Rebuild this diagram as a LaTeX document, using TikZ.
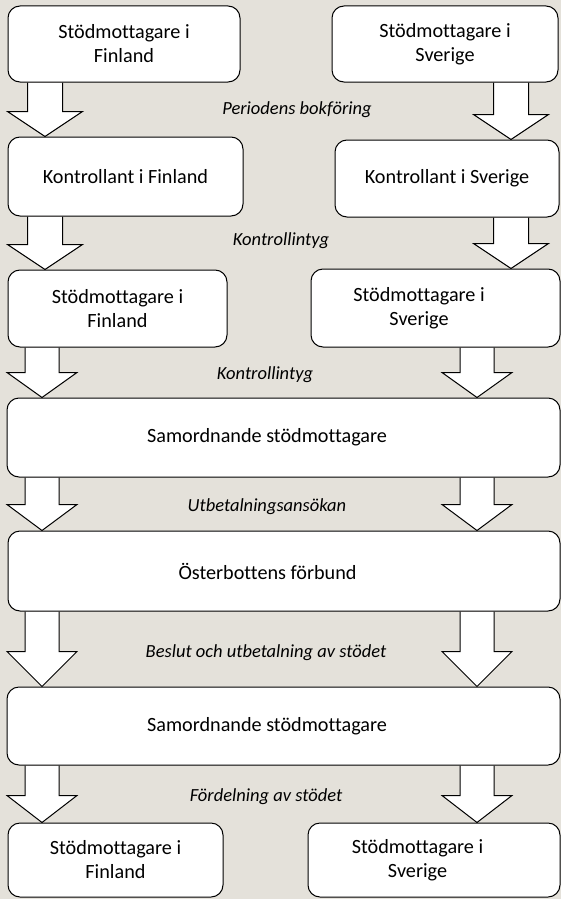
\documentclass[tikz,border=0pt]{standalone}
\usepackage{fontspec}
\setmainfont{Carlito}[Ligatures=NoCommon]
\usepackage{tikz}
\usetikzlibrary{calc,backgrounds}
\definecolor{paper}{HTML}{E4E1DA}
\definecolor{ink}{HTML}{000000}
\tikzset{
  box/.style={draw=ink, fill=white, line width=1pt, rounded corners=12pt, align=center,
    inner sep=0pt, font=\fontsize{20.2}{24}\selectfont},
  lab/.style={text=ink, font=\fontsize{18.5}{22}\selectfont\itshape},
  barrow/.style={draw=ink, fill=white, line width=1pt, line join=miter}
}
\newcommand{\shaftw}{17.5}
\newcommand{\headw}{37.5}
\newcommand{\blockarrow}[4]{%
  \path (#1,0 |- #2.south) coordinate (top) (#1,0 |- #3.north) coordinate (tip);
  \draw[barrow] ($(top)+(-\shaftw,0)$) -- ($(tip)+(-\shaftw,-#4)$) -- ($(tip)+(-\headw,-#4)$) -- (tip)
    -- ($(tip)+(\headw,-#4)$) -- ($(tip)+(\shaftw,-#4)$) -- ($(top)+(\shaftw,0)$);
}
\newcommand{\toleft}{\hspace*{-33pt}}

\begin{document}
\begin{tikzpicture}[x=1pt, y=-1pt]
  \useasboundingbox (0,0) rectangle (561,899);

  \node[box, minimum width=232, minimum height=76] (FinA) at (124,44) {Stödmottagare i\\Finland};
  \node[box, minimum width=226, minimum height=76] (SveA) at (445,44) {Stödmottagare i\\Sverige};
  \node[box, minimum width=235, minimum height=79] (KonFi) at (125.5,176.5) {Kontrollant i Finland};
  \node[box, minimum width=224, minimum height=77] (KonSv) at (447,178.5) {Kontrollant i Sverige};
  \node[box, minimum width=219, minimum height=77] (FinB) at (117.5,308.5) {Stödmottagare i\\Finland};
  \node[box, minimum width=249, minimum height=78] (SveB) at (435.5,308) {\toleft Stödmottagare i\\\toleft Sverige};
  \node[box, minimum width=553, minimum height=79] (Sam1) at (283.5,437.5) {\toleft Samordnande stödmottagare};
  \node[box, minimum width=552, minimum height=80] (Ost) at (284,571) {\toleft Österbottens förbund};
  \node[box, minimum width=553, minimum height=78] (Sam2) at (283.5,726) {\toleft Samordnande stödmottagare};
  \node[box, minimum width=215, minimum height=74] (FinC) at (115.5,860) {Stödmottagare i\\Finland};
  \node[box, minimum width=252, minimum height=74] (SveC) at (434,860) {\toleft Stödmottagare i\\\toleft Sverige};

  \node[lab] (L1) at (297,110) {Periodens bokföring};
  \node[lab] (L2) at (281,241) {Kontrollintyg};
  \node[lab] (L3) at (265,375) {Kontrollintyg};
  \node[lab] (L4) at (267,507) {Utbetalningsansökan};
  \node[lab] (L5) at (266,653) {Beslut och utbetalning av stödet};
  \node[lab] (L6) at (266,797) {Fördelning av stödet};

  \begin{scope}[on background layer]
    \fill[paper] (0,0) rectangle (561,899);
    \blockarrow{45}{FinA}{KonFi}{25}
    \blockarrow{511}{SveA}{KonSv}{25}
    \blockarrow{45}{KonFi}{FinB}{25}
    \blockarrow{511}{KonSv}{SveB}{25}
    \renewcommand{\shaftw}{17}
    \renewcommand{\headw}{35}
    \blockarrow{42}{FinB}{Sam1}{25}
    \blockarrow{477}{SveB}{Sam1}{25}
    \blockarrow{42}{Sam1}{Ost}{26}
    \blockarrow{477}{Sam1}{Ost}{26}
    \blockarrow{42}{Ost}{Sam2}{35}
    \blockarrow{477}{Ost}{Sam2}{35}
    \blockarrow{42}{Sam2}{FinC}{27}
    \blockarrow{477}{Sam2}{SveC}{27}
  \end{scope}
\end{tikzpicture}
\end{document}
